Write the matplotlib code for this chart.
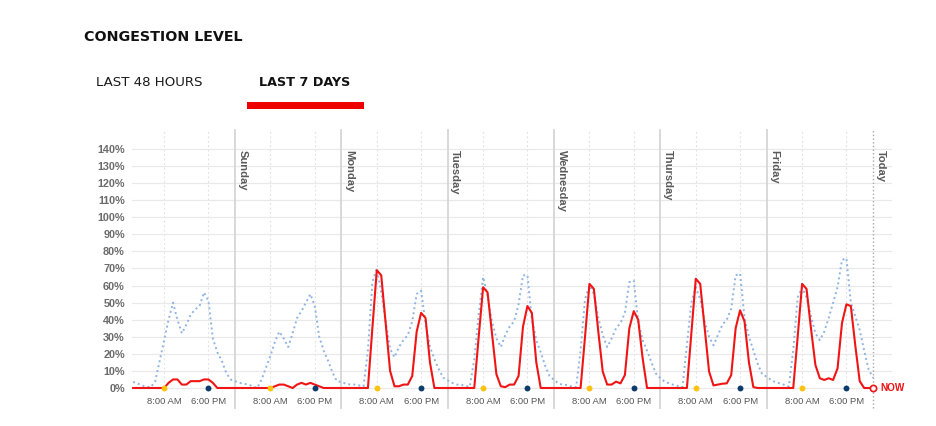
import matplotlib
matplotlib.use("Agg")
import matplotlib.pyplot as plt
import matplotlib.transforms as mtransforms
from matplotlib.patches import Rectangle

# hours since Saturday 0:00, one value per hour
day_names = ["Sunday", "Monday", "Tuesday", "Wednesday", "Thursday", "Friday", "Today"]
time_labels = ["8:00 AM", "6:00 PM"]
label_hours = [8, 18]

# typical congestion (dotted blue), %; Saturday starts at 1:00
typical_sat = [3.6, 2.6, 1.5, 0.7, 0.5, 4, 16, 28, 40, 50, 40, 32, 37, 43, 46, 48, 56, 51, 29, 21, 16, 9, 5]
typical_sun = [4, 3, 2.5, 2, 1, 0, 5, 12, 19, 27, 33, 29, 24, 32, 41, 45, 50, 55, 48, 30, 22, 16, 9, 4]
typical_mon = [3.5, 2.5, 2, 2, 1.5, 1, 22, 62, 70, 56, 39, 23, 18, 24, 28, 31, 39, 55, 57, 38, 24, 17, 11, 6]
typical_tue = [4.5, 3, 2, 2, 1, 0.8, 17, 43, 65, 54, 39, 29, 24, 31, 36, 39, 49, 66, 66, 40, 28, 21, 13, 7]
typical_wed = [4.7, 2.7, 1.8, 1.8, 0.8, 0.5, 22, 52, 60, 55, 41, 31, 24, 29, 35, 38, 44, 62, 63, 39, 28, 22, 15, 8.5]
typical_thu = [5.7, 3.7, 2.7, 1.8, 1.2, 0.5, 25, 50, 59, 52, 39, 30, 25, 31, 37, 40, 46.5, 66, 67, 41, 30, 22, 14, 8]
typical_fri = [6.6, 4.7, 3.3, 2.7, 1.8, 0.8, 22, 53, 59, 53, 42, 32, 28, 33, 41, 50, 59, 75, 76, 50, 42, 34, 22, 11]
typical_now = [6]

# live congestion (red), %
live_sat = [0, 0, 0, 0, 0, 0, 0, 0, 3, 5, 5, 2, 2, 4, 4, 4, 5, 5, 3, 0, 0, 0, 0]
live_sun = [0, 0, 0, 0, 0, 0, 0, 0, 0, 1, 2, 2, 1, 0, 2, 3, 2, 3, 2, 1, 0, 0, 0, 0]
live_mon = [0, 0, 0, 0, 0, 0, 0, 35, 69, 66, 38, 10, 1, 1, 2, 2, 7, 33, 44, 41, 15, 0, 0, 0]
live_tue = [0, 0, 0, 0, 0, 0, 0, 30, 59, 56, 32, 8, 1, 0.5, 2, 2, 7, 36, 48, 44, 15, 0, 0, 0]
live_wed = [0, 0, 0, 0, 0, 0, 0, 30, 61, 58, 33, 9.6, 2, 2, 3.7, 2.7, 7.6, 35, 45, 40, 17.5, 0, 0, 0]
live_thu = [0, 0, 0, 0, 0, 0, 0, 32, 64, 61, 35, 9.6, 1.5, 2, 2.5, 2.7, 7.6, 35, 45.5, 39, 15, 0.5, 0, 0]
live_fri = [0, 0, 0, 0, 0, 0, 0, 30, 61, 58, 35, 13.5, 5.7, 4.7, 5.7, 4.7, 11.5, 38, 49, 48, 25, 4, 0, 0]
live_now = [0]

typical = typical_sat + typical_sun + typical_mon + typical_tue + typical_wed + typical_thu + typical_fri + typical_now
live = live_sat + live_sun + live_mon + live_tue + live_wed + live_thu + live_fri + live_now
hours = list(range(1, len(live) + 1))

fig = plt.figure(figsize=(9.37, 4.26), dpi=100)
ax = fig.add_axes([131.8 / 937, 1 - 391.4 / 426, (891.6 - 131.8) / 937, (391.4 - 130.2) / 426])

ax.set_xlim(0.7, 172.2)
ax.set_ylim(-2, 151)
for s in ax.spines.values():
    s.set_visible(False)

yt = list(range(0, 141, 10))
ax.set_yticks(yt)
ax.set_yticklabels([f"{v}%" for v in yt], fontfamily="Liberation Sans", fontweight="bold",
                   fontsize=7.8, color="#6b6b6b")
xt = [24 * d + h for d in range(7) for h in label_hours]
ax.set_xticks(xt)
ax.set_xticklabels(time_labels * 7, fontfamily="Liberation Sans", fontsize=6.8, color="#555555")
ax.tick_params(length=0, pad=4)
ax.tick_params(axis="y", pad=5)
ax.grid(axis="y", color="#e9e9e9", linewidth=0.9)
ax.grid(axis="x", color="#dedede", linewidth=0.8, linestyle=(0, (1.5, 2.5)))
ax.set_axisbelow(True)

# day separators
offset = mtransforms.ScaledTranslation(2.5 / 100, 0, fig.dpi_scale_trans)
for k, name in enumerate(day_names, start=1):
    last = k == len(day_names)
    ax.plot([24 * k, 24 * k], [-11.7, 151], color="#a8a8a8" if last else "#d6d6d6",
            linewidth=1.0 if last else 1.3, linestyle=":" if last else "-", clip_on=False, zorder=1)
    ax.text(24 * k, 139.5, name, rotation=270, ha="left", va="top", fontsize=8,
            fontweight="bold", fontfamily="Liberation Sans", color="#5a5a5a",
            transform=ax.transData + offset)

ax.plot(hours, typical, color="#8db4e2", linewidth=1.4, linestyle=(0, (1, 1.6)), zorder=3)
ax.plot(hours, live, color="#f01414", linewidth=1.5, zorder=4)

ax.scatter([24 * d + 8 for d in range(7)], [0] * 7, s=18, color="#ffc20e", zorder=5, linewidths=0)
ax.scatter([24 * d + 18 for d in range(7)], [0] * 7, s=18, color="#0b3c6b", zorder=5, linewidths=0)

ax.plot([hours[-1]], [live[-1]], marker="o", markersize=4.5, markerfacecolor="white",
        markeredgecolor="#f01414", markeredgewidth=1.2, zorder=6, clip_on=False)
ax.annotate("NOW", xy=(hours[-1], live[-1]), xytext=(5.5, 0), textcoords="offset points",
            va="center", ha="left", fontsize=7.2, fontweight="bold", color="#f01414",
            fontfamily="Liberation Sans")

# header
fig.text(84 / 937, 1 - 37 / 426, "CONGESTION LEVEL", fontsize=10.3, fontweight="bold",
         color="#111111", va="center", ha="left")
fig.text(96 / 937, 1 - 82 / 426, "LAST 48 HOURS", fontsize=9.6, color="#1a1a1a",
         va="center", ha="left")
fig.text(259 / 937, 1 - 82 / 426, "LAST 7 DAYS", fontsize=9.2, fontweight="bold",
         color="#111111", va="center", ha="left")
fig.patches.append(Rectangle((247 / 937, 1 - 108.5 / 426), 117 / 937, 6.5 / 426,
                             transform=fig.transFigure, facecolor="#ee0000", edgecolor="none"))

fig.savefig("out.png", dpi=100)
